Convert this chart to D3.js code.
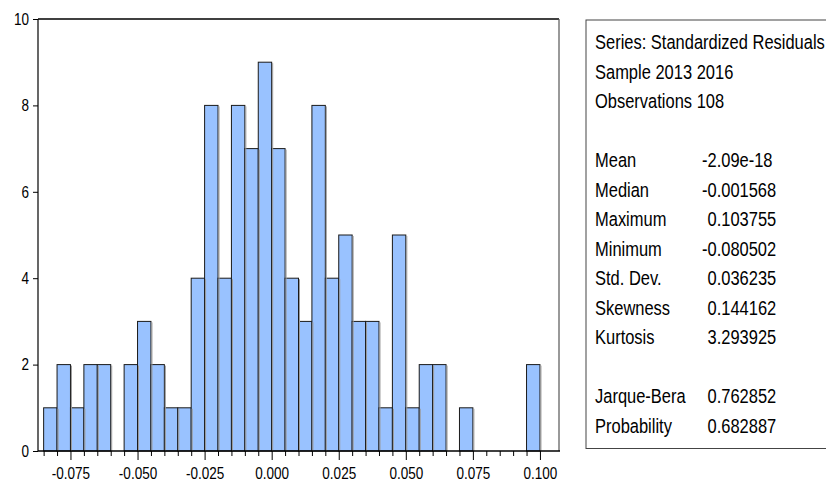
<!DOCTYPE html>
<html>
<head>
<meta charset="utf-8">
<script src="https://cdn.jsdelivr.net/npm/d3@7"></script>
<style>
  body { margin: 0; background: #fff; }
  svg { display: block; }
  .axis text { font-family: 'Liberation Sans', Arial, sans-serif; font-size: 16.5px; fill: #000; }
  .axis line { stroke: #000; }
  .stats text { font-family: 'Liberation Sans', Arial, sans-serif; font-size: 19.5px; fill: #000; }
</style>
</head>
<body>
<div id="main"></div>
<script>
// histogram of residuals, bins of 0.005 starting at -0.085
const binStart = -0.085;
const binWidth = 0.005;
const counts = [1, 2, 1, 2, 2, 0, 2, 3, 2, 1, 1, 4, 8, 4, 8, 7, 9, 7, 4, 3,
                8, 4, 5, 3, 3, 1, 5, 1, 2, 2, 0, 1, 0, 0, 0, 0, 2];
const xTickValues = [-0.075, -0.050, -0.025, 0.000, 0.025, 0.050, 0.075, 0.100];
const xTickLabels = ['-0.075', '-0.050', '-0.025', '0.000', '0.025', '0.050', '0.075', '0.100'];
const yTickValues = [0, 2, 4, 6, 8, 10];

// summary table
const headerLines = ['Series: Standardized Residuals', 'Sample 2013 2016', 'Observations 108'];
const statNames = ['Mean', 'Median', 'Maximum', 'Minimum', 'Std. Dev.', 'Skewness', 'Kurtosis', '', 'Jarque-Bera', 'Probability'];
const statValues = ['-2.09e-18', '-0.001568', '0.103755', '-0.080502', '0.036235', '0.144162', '3.293925', '', '0.762852', '0.682887'];

const width = 826;
const height = 483;
const plot = { l: 38, t: 19, r: 559, b: 451 };
// the original uses a condensed face, squeeze Liberation Sans horizontally
const axisSqueeze = 0.82;
const statSqueeze = 0.845;

const svg = d3.select('#main')
  .append('svg')
  .attr('width', width)
  .attr('height', height);

const x = d3.scaleLinear().domain([-0.0871, 0.1071]).range([plot.l, plot.r]);
const y = d3.scaleLinear().domain([0, 10]).range([plot.b, plot.t]);

const bins = counts.map((c, i) => {
  const lo = +(binStart + i * binWidth).toFixed(3);
  return { lo: lo, hi: +(lo + binWidth).toFixed(3), count: c };
});

// bars
const bars = svg.append('g').attr('class', 'bars');
bars.selectAll('rect')
  .data(bins.filter(d => d.count > 0))
  .enter()
  .append('rect')
  .attr('x', d => x(d.lo))
  .attr('y', d => y(d.count))
  .attr('width', d => x(d.hi) - x(d.lo))
  .attr('height', d => y(0) - y(d.count))
  .attr('fill', '#99c2ff')
  .attr('stroke', '#1a1a1a')
  .attr('stroke-width', 1);

// little grey shadow on the right of each bar
bars.selectAll('line.shadow')
  .data(bins.filter(d => d.count > 0))
  .enter()
  .append('line')
  .attr('class', 'shadow')
  .attr('x1', d => x(d.hi) + 1)
  .attr('x2', d => x(d.hi) + 1)
  .attr('y1', d => y(d.count) + 1)
  .attr('y2', y(0))
  .attr('stroke', '#9a9a9a')
  .attr('stroke-width', 1);

// frame
svg.append('line').attr('x1', plot.l).attr('x2', plot.r).attr('y1', plot.t).attr('y2', plot.t)
  .attr('stroke', '#000').attr('stroke-width', 1.5);
svg.append('line').attr('x1', plot.l).attr('x2', plot.l).attr('y1', plot.t).attr('y2', plot.b)
  .attr('stroke', '#000').attr('stroke-width', 1.2);
svg.append('line').attr('x1', plot.r).attr('x2', plot.r).attr('y1', plot.t).attr('y2', plot.b)
  .attr('stroke', '#555').attr('stroke-width', 1.2);
svg.append('line').attr('x1', plot.l).attr('x2', plot.r + 1).attr('y1', plot.b).attr('y2', plot.b)
  .attr('stroke', '#000').attr('stroke-width', 1.5);

// y axis
const yAxis = d3.axisLeft(y).tickValues(yTickValues).tickSize(5).tickPadding(4).tickFormat(d3.format('d'));
const gy = svg.append('g')
  .attr('class', 'axis')
  .attr('transform', `translate(${plot.l},0)`)
  .call(yAxis);
gy.select('.domain').remove();
gy.selectAll('.tick text')
  .attr('x', -9 / axisSqueeze)
  .attr('transform', `scale(${axisSqueeze},1)`);

// x axis: minor tick at every bin edge, labels every 0.025
const edges = bins.map(d => d.lo).concat([bins[bins.length - 1].hi]);
const isMajor = v => xTickValues.some(t => Math.abs(t - v) < 1e-9);
const xAxis = d3.axisBottom(x)
  .tickValues(edges)
  .tickSize(5)
  .tickPadding(12)
  .tickFormat(v => {
    const k = xTickValues.findIndex(t => Math.abs(t - v) < 1e-9);
    return k >= 0 ? xTickLabels[k] : '';
  });
const gx = svg.append('g')
  .attr('class', 'axis')
  .attr('transform', `translate(0,${plot.b})`)
  .call(xAxis);
gx.select('.domain').remove();
gx.selectAll('.tick line').attr('y2', d => isMajor(d) ? 9 : 5).attr('stroke', '#333');
gx.selectAll('.tick text')
  .attr('y', 16)
  .attr('dy', '0.71em')
  .attr('transform', `scale(${axisSqueeze},1)`);

// stats box
const box = { l: 586, t: 20, b: 448.5 };
svg.append('rect')
  .attr('x', box.l)
  .attr('y', box.t)
  .attr('width', width - box.l + 5)
  .attr('height', box.b - box.t)
  .attr('fill', 'none')
  .attr('stroke', '#444')
  .attr('stroke-width', 1);

const stats = svg.append('g').attr('class', 'stats');
const lineH = 29.5;
const firstBase = 49;
const labelX = 595;
const valueX = 702;

function statText(tx, ty, str) {
  return stats.append('text')
    .attr('transform', `translate(${tx},${ty}) scale(${statSqueeze},1)`)
    .text(str);
}

headerLines.forEach((t, i) => {
  statText(labelX, firstBase + i * lineH, t);
});

const minusW = (function() {
  const t = stats.append('text').text('-');
  const w = t.node().getComputedTextLength();
  t.remove();
  return w * statSqueeze;
})();

statNames.forEach((t, i) => {
  if (!t) return;
  const yy = firstBase + (i + 4) * lineH;
  statText(labelX, yy, t);
  const v = statValues[i];
  statText(v.startsWith('-') ? valueX : valueX + minusW, yy, v);
});
</script>
</body>
</html>
